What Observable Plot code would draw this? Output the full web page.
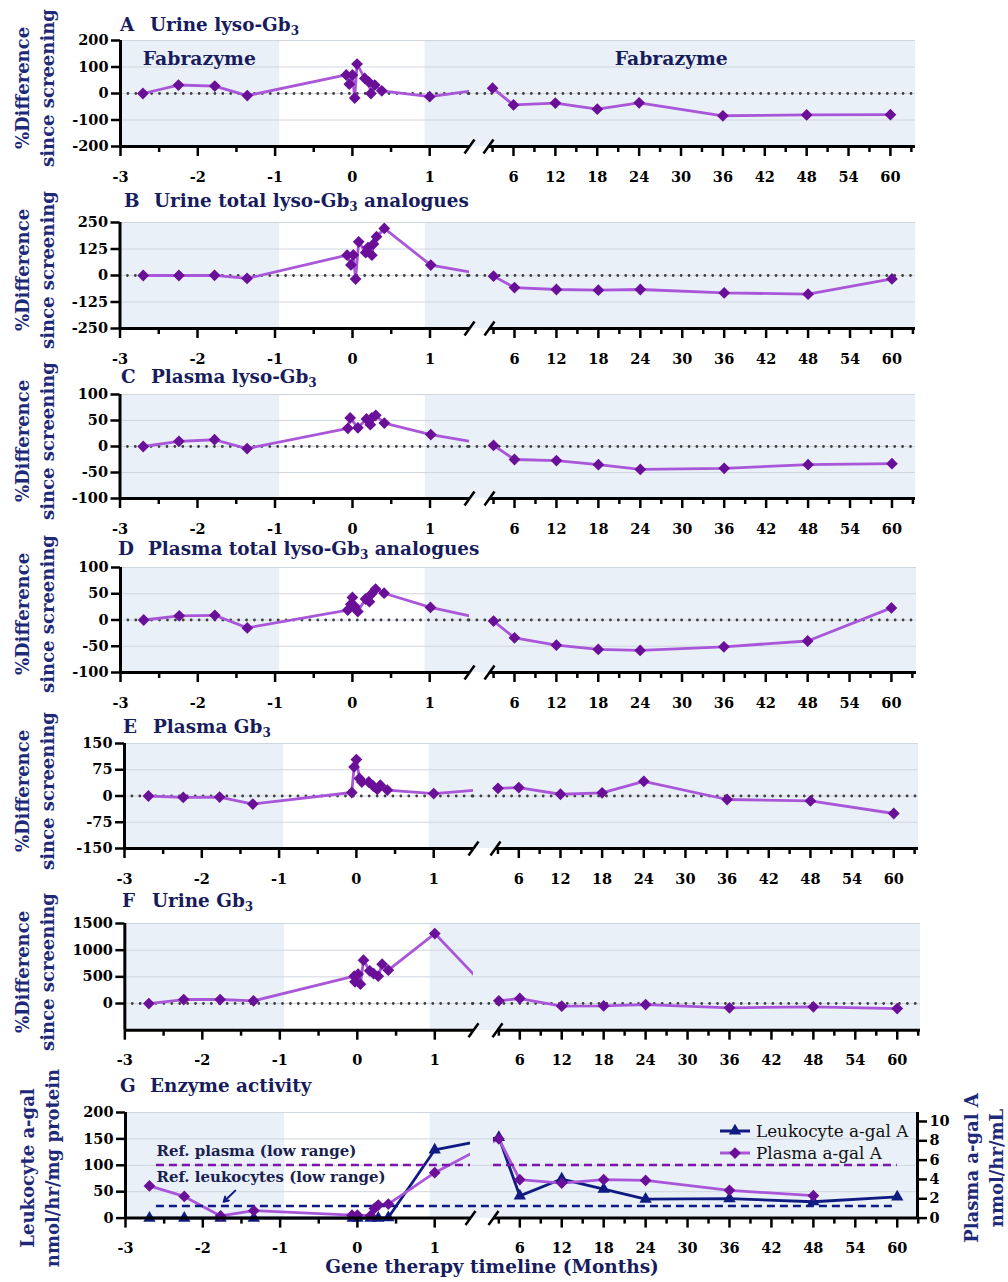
<!DOCTYPE html>
<html><head><meta charset="utf-8">
<script src="https://cdn.jsdelivr.net/npm/d3@7"></script>
<script src="https://cdn.jsdelivr.net/npm/@observablehq/plot@0.6"></script>
<style>
body{margin:0;background:#fff;}
#root{position:relative;width:1008px;height:1282px;overflow:hidden;font-family:"DejaVu Serif",serif;}
.title{position:absolute;font-weight:bold;font-size:18.4px;color:#171c5c;white-space:nowrap;line-height:24px;z-index:5;}
.title .lt{display:inline-block;width:30px;}
.title sub{font-size:12px;vertical-align:-4px;line-height:0;}
.ylab{position:absolute;font-weight:bold;font-size:18px;color:#1e2a78;white-space:nowrap;text-align:center;line-height:25px;transform:translate(-50%,-50%) rotate(-90deg);z-index:5;}
.xlab{position:absolute;font-weight:bold;font-size:18.5px;color:#171c5c;white-space:nowrap;transform:translate(-50%,-50%);z-index:5;}
svg{overflow:visible}
</style></head><body><div id="root"></div>
<script>
// ---------------- DATA ----------------
const xMajorLeft = [-3, -2, -1, 0, 1];
const xMajorRight = [6, 12, 18, 24, 30, 36, 42, 48, 54, 60];
const xMinorLeft = [-2.5, -1.5, -0.5, 0.5];
const xMinorRight = [3, 9, 15, 21, 27, 33, 39, 45, 51, 57, 63];
const fabrazymeBands = [{start: -3, end: -0.94}, {start: 0.94, end: 64}];

// A Urine lyso-Gb3 (% difference since screening)
const uLysoMonths = [-2.71, -2.25, -1.78, -1.36, -0.08, -0.04, 0.0, 0.03, 0.06, 0.16, 0.21, 0.24, 0.29, 0.38, 1.0, 3, 6, 12, 18, 24, 36, 48, 60];
const uLysoPct    = [0, 32, 28, -8, 70, 35, 70, -17, 111, 57, 44, 0, 32, 10, -12, 20, -43, -36, -59, -35, -84, -81, -80];
const aTicks = [-200, -100, 0, 100, 200];

// B Urine total lyso-Gb3 analogues
const uTotMonths = [-2.70, -2.24, -1.78, -1.36, -0.07, -0.02, 0.01, 0.04, 0.08, 0.17, 0.20, 0.25, 0.27, 0.31, 0.41, 1.01, 3, 6, 12, 18, 24, 36, 48, 60];
const uTotPct    = [0, 0, 1, -14, 96, 50, 97, -17, 159, 108, 132, 96, 148, 183, 222, 49, -3, -57, -66, -69, -66, -82, -88, -16];
const bTicks = [-250, -125, 0, 125, 250];

// C Plasma lyso-Gb3
const pLysoMonths = [-2.70, -2.24, -1.78, -1.36, -0.06, -0.03, 0.07, 0.18, 0.23, 0.25, 0.30, 0.41, 1.01, 3, 6, 12, 18, 24, 36, 48, 60];
const pLysoPct    = [0, 10, 13, -4, 35, 55, 36, 53, 42, 55, 60, 45, 23, 2, -25, -27, -35, -44, -42, -35, -33];
const cTicks = [-100, -50, 0, 50, 100];

// D Plasma total lyso-Gb3 analogues
const pTotMonths = [-2.70, -2.24, -1.78, -1.36, -0.06, -0.02, 0.0, 0.03, 0.07, 0.17, 0.22, 0.25, 0.30, 0.41, 1.01, 3, 6, 12, 18, 24, 36, 48, 60];
const pTotPct    = [0, 8, 9, -15, 19, 30, 43, 26, 16, 40, 35, 50, 59, 51, 24, -2, -34, -48, -56, -58, -51, -40, 23];
const dTicks = [-100, -50, 0, 50, 100];

// E Plasma Gb3
const pGbMonths = [-2.69, -2.24, -1.77, -1.34, -0.06, -0.03, 0.0, 0.04, 0.07, 0.16, 0.22, 0.27, 0.31, 0.40, 1.0, 3, 6, 12, 18, 24, 36, 48, 60];
const pGbPct    = [0, -4, -3, -23, 10, 83, 104, 50, 40, 40, 28, 19, 31, 17, 7, 22, 24, 5, 9, 42, -10, -14, -50];
const eTicks = [-150, -75, 0, 75, 150];

// F Urine Gb3
const uGbMonths = [-2.69, -2.24, -1.77, -1.34, -0.04, -0.03, 0.01, 0.04, 0.08, 0.16, 0.21, 0.27, 0.32, 0.40, 1.0, 3, 6, 12, 18, 24, 36, 48, 60];
const uGbPct    = [0, 75, 75, 50, 512, 406, 552, 362, 812, 612, 562, 512, 737, 625, 1312, 50, 94, -50, -45, -19, -81, -62, -94];
const fTicks = [0, 500, 1000, 1500];

// G Enzyme activity
const leukoMonths = [-2.69, -2.24, -1.77, -1.34, -0.06, 0.0, 0.17, 0.27, 0.40, 1.0, 3, 6, 12, 18, 24, 36, 48, 60];
const leukoActivity = [0, 0, 0, 0, 0, 0, 0, 0, 1, 129, 153, 42, 74, 55, 36, 37, 31, 40]; // nmol/hr/mg protein
const plasmaMonths = [-2.69, -2.24, -1.77, -1.34, -0.07, 0.0, 0.17, 0.22, 0.27, 0.40, 1.0, 3, 6, 12, 18, 24, 36, 48];
const plasmaActivity = [3.33, 2.24, 0.22, 0.77, 0.3, 0.3, 0.25, 1.0, 1.35, 1.45, 4.7, 8.2, 3.98, 3.63, 3.98, 3.9, 2.87, 2.32]; // nmol/hr/mL
const gTicksLeft = [0, 50, 100, 150, 200];
const gTicksRight = [0, 2, 4, 6, 8, 10];
const refPlasmaLow = 5.5;
const refLeukoLow = 23;

// ---------------- STYLE ----------------
const SHADE = "#e9f0f8", GRID = "#d0d6de", LINE = "#a957d8", MARK = "#6a0f98", NAVY = "#0f1b80", DOTC = "#3f3f3f", PREF = "#7a16a8";
const K = 18.3; // plasma units -> left-axis units
const root = document.getElementById("root");

function addTitle(letter, text, x, cy) {
  const d = document.createElement("div");
  d.className = "title";
  d.style.left = x + "px"; d.style.top = (cy - 12) + "px";
  d.innerHTML = `<span class="lt">${letter}</span>` + text.replace("Gb3", "Gb<sub>3</sub>");
  root.appendChild(d);
}
function addYLab(lines, cx, cy) {
  const d = document.createElement("div");
  d.className = "ylab";
  d.style.left = cx + "px"; d.style.top = cy + "px";
  d.innerHTML = lines.join("<br>");
  root.appendChild(d);
}

function panel(cfg) {
  const {L0, sL, x1, x2, R6, sR, x3, top, bottom} = cfg.layout;
  const xa = (x1 - L0) / sL - 3, xb = 6 + (x2 - R6) / sR, xe = 6 + (x3 - R6) / sR;
  const xDomain = [-3, xa, xb, xe], xRange = [L0, x1, x2, x3];
  const inv = d3.scaleLinear().domain(xRange).range(xDomain);
  const mt = 12, mb = 48, fh = bottom - top;
  const [y0, y1] = cfg.yDomain;
  const pu = fh / (y1 - y0);
  const bands = fabrazymeBands.map(b => ({a: b.start, b: Math.min(b.end, xe)}));
  const grid = cfg.yTicks.filter(t => t !== y0);
  const slashes = [x1, x2].map(p => ({xa: inv(p - 5), xb: inv(p + 5), ya: y0 - 7 / pu, yb: y0 + 7 / pu}));
  const dots = {stroke: DOTC, strokeWidth: 2.8, strokeDasharray: "0.01 7.9", strokeLinecap: "round"};
  const marks = [
    Plot.rect(bands, {x1: "a", x2: "b", y1: y0, y2: y1, fill: SHADE}),
    Plot.ruleY(grid, {stroke: GRID, strokeWidth: 1}),
  ];
  if (cfg.zero) marks.push(Plot.ruleY([0], dots));
  for (const s of cfg.series) marks.push(Plot.line(s.data, {x: "x", y: "y", stroke: s.line, strokeWidth: 2.8}));
  // break gap
  marks.push(Plot.rect([0], {x1: xa, x2: xb, y1: y0, y2: y1, fill: SHADE}));
  marks.push(Plot.ruleY(grid, {x1: xa, x2: xb, stroke: GRID, strokeWidth: 1}));
  if (cfg.zero) marks.push(Plot.ruleY([0], {x1: xa, x2: xb, ...dots}));
  if (cfg.extra) marks.push(...cfg.extra(xa, xb, xe));
  for (const s of cfg.series) marks.push(Plot.dot(s.data, {x: "x", y: "y", symbol: s.symbol, r: s.r, fill: s.mark}));
  marks.push(
    Plot.ruleY([y0], {x1: -3, x2: xa, stroke: "black", strokeWidth: 3}),
    Plot.ruleY([y0], {x1: xb, x2: xe, stroke: "black", strokeWidth: 3}),
    Plot.ruleX([-3], {y1: y0, y2: y1, stroke: "black", strokeWidth: 3}),
    Plot.link(slashes, {x1: "xa", y1: "ya", x2: "xb", y2: "yb", stroke: "black", strokeWidth: 2.5}),
    Plot.axisY(cfg.yTicks, {anchor: "left", tickSize: 9, tickPadding: 3, tickFormat: d => String(d), strokeWidth: 2.5, label: null}),
    Plot.axisX([...xMajorLeft, ...xMajorRight], {anchor: "bottom", tickSize: 10, tickPadding: 15, tickFormat: d => String(d), strokeWidth: 2.5, label: null}),
    Plot.axisX([...xMinorLeft, ...xMinorRight], {anchor: "bottom", tickSize: 6, tickFormat: () => "", strokeWidth: 2.5, label: null})
  );
  if (cfg.right) marks.push(...cfg.right(xe, y0, y1));
  const svg = Plot.plot({
    width: 1008, height: mt + fh + mb,
    marginTop: mt, marginBottom: mb, marginLeft: L0, marginRight: 1008 - x3,
    x: {type: "linear", domain: xDomain, range: xRange, label: null},
    y: {type: "linear", domain: [y0, y1], range: [mt + fh, mt], label: null},
    style: {background: "transparent", fontFamily: "DejaVu Serif", fontSize: "14.5px", fontWeight: "bold", color: "#000", overflow: "visible"},
    marks
  });
  svg.style.position = "absolute"; svg.style.left = "0px"; svg.style.top = (top - mt) + "px";
  root.appendChild(svg);
}

const pts = (xs, ys, f = v => v) => xs.map((x, i) => ({x, y: f(ys[i])}));
const purpleSeries = (xs, ys) => [{data: pts(xs, ys), line: LINE, mark: MARK, symbol: "diamond2", r: 5.3}];

const L_AD = {L0: 120, sL: 77.3, x1: 469, x2: 488, R6: 513, sR: 6.98, x3: 915};
const L_BC = {L0: 119.5, sL: 77.5, x1: 469, x2: 489, R6: 514, sR: 6.99, x3: 915};

const panels = [
  {letter: "A", title: "Urine lyso-Gb3", tx: 120, ty: 25, yDomain: [-200, 200], yTicks: aTicks, zero: true,
   layout: {...L_AD, top: 40, bottom: 146}, series: purpleSeries(uLysoMonths, uLysoPct),
   extra: () => [Plot.text([{x: -1.98, y: 132, t: "Fabrazyme"}, {x: 28.6, y: 132, t: "Fabrazyme"}], {x: "x", y: "y", text: "t", fontSize: 18.8, fill: "#171c5c"})]},
  {letter: "B", title: "Urine total lyso-Gb3 analogues", tx: 124, ty: 201, yDomain: [-250, 250], yTicks: bTicks, zero: true,
   layout: {...L_BC, top: 221.7, bottom: 327.7}, series: purpleSeries(uTotMonths, uTotPct)},
  {letter: "C", title: "Plasma lyso-Gb3", tx: 121, ty: 377, yDomain: [-100, 100], yTicks: cTicks, zero: true,
   layout: {...L_BC, top: 394, bottom: 498}, series: purpleSeries(pLysoMonths, pLysoPct)},
  {letter: "D", title: "Plasma total lyso-Gb3 analogues", tx: 118, ty: 549, yDomain: [-100, 100], yTicks: dTicks, zero: true,
   layout: {...L_AD, x2: 489, R6: 514, x3: 916, top: 566.7, bottom: 671.7}, series: purpleSeries(pTotMonths, pTotPct)},
  {letter: "E", title: "Plasma Gb3", tx: 123, ty: 727, yDomain: [-150, 150], yTicks: eTicks, zero: true,
   layout: {L0: 124, sL: 77.3, x1: 473, x2: 495, R6: 518.3, sR: 6.944, x3: 918, top: 743.3, bottom: 848.3}, series: purpleSeries(pGbMonths, pGbPct)},
  {letter: "F", title: "Urine Gb3", tx: 122, ty: 901, yDomain: [-500, 1500], yTicks: fTicks, zero: true,
   layout: {L0: 124.3, sL: 77.5, x1: 473, x2: 497, R6: 519.3, sR: 6.99, x3: 920, top: 923.3, bottom: 1030}, series: purpleSeries(uGbMonths, uGbPct)},
  {letter: "G", title: "Enzyme activity", tx: 120, ty: 1086, yDomain: [0, 200], yTicks: gTicksLeft, zero: false,
   layout: {L0: 125, sL: 77.3, x1: 470, x2: 493, R6: 519.3, sR: 6.99, x3: 917, top: 1111.7, bottom: 1217.3},
   series: [
     {data: pts(leukoMonths, leukoActivity), line: NAVY, mark: NAVY, symbol: "triangle", r: 4.6},
     {data: pts(plasmaMonths, plasmaActivity, v => v * K), line: LINE, mark: MARK, symbol: "diamond2", r: 5.3}
   ],
   extra: (xa, xb, xe) => [
     Plot.ruleY([refPlasmaLow * K], {x1: -2.6, x2: xa, stroke: PREF, strokeWidth: 2.5, strokeDasharray: "8 5"}),
     Plot.ruleY([refPlasmaLow * K], {x1: xb, x2: 60, stroke: PREF, strokeWidth: 2.5, strokeDasharray: "8 5"}),
     Plot.ruleY([refLeukoLow], {x1: -2.6, x2: 60, stroke: NAVY, strokeWidth: 2.5, strokeDasharray: "8 5"}),
     Plot.text([{x: -2.6, y: 126, t: "Ref. plasma (low range)"}, {x: -2.6, y: 77, t: "Ref. leukocytes (low range)"}],
       {x: "x", y: "y", text: "t", textAnchor: "start", fontSize: 15, fill: "#1b1f50"}),
     Plot.arrow([{x1: -1.58, y1: 52, x2: -1.73, y2: 31}], {x1: "x1", y1: "y1", x2: "x2", y2: "y2", stroke: NAVY, strokeWidth: 2, headLength: 8})
   ],
   right: (xe, y0, y1) => [
     Plot.ruleX([xe], {y1: y0, y2: y1, stroke: "black", strokeWidth: 3}),
     Plot.axisY(gTicksRight.map(v => v * K), {anchor: "right", tickSize: 9, tickPadding: 3, tickFormat: d => String(Math.round(d / K)), strokeWidth: 2.5, label: null})
   ]}
];

for (const p of panels) {
  panel(p);
  addTitle(p.letter, p.title, p.tx, p.ty);
  if (p.letter !== "G") addYLab(["%Difference", "since screening"], 35, (p.layout.top + p.layout.bottom) / 2 - 5);
}
addYLab(["Leukocyte a-gal", "nmol/hr/mg protein"], 40, 1168);
addYLab(["Plasma a-gal A", "nmol/hr/mL"], 984, 1168);
const xl = document.createElement("div");
xl.className = "xlab"; xl.style.left = "492px"; xl.style.top = "1266px";
xl.textContent = "Gene therapy timeline (Months)";
root.appendChild(xl);

// legend
const leg = d3.select(root).append("svg").attr("width", 215).attr("height", 48)
  .style("position", "absolute").style("left", "712px").style("top", "1118px").style("z-index", 6);
const legendItems = [
  {label: "Leukocyte a-gal A", line: NAVY, mark: NAVY, sym: d3.symbolTriangle, size: 66},
  {label: "Plasma a-gal A", line: LINE, mark: MARK, sym: d3.symbolDiamond2, size: 88}
];
legendItems.forEach((it, i) => {
  const y = 13 + i * 22;
  leg.append("line").attr("x1", 8).attr("x2", 38).attr("y1", y).attr("y2", y).attr("stroke", it.line).attr("stroke-width", 3);
  leg.append("path").attr("d", d3.symbol(it.sym, it.size)()).attr("transform", `translate(23,${y})`).attr("fill", it.mark);
  leg.append("text").attr("x", 44).attr("y", y + 6).attr("font-family", "DejaVu Serif").attr("font-size", 16.8).attr("fill", "#111").text(it.label);
});
</script></body></html>
